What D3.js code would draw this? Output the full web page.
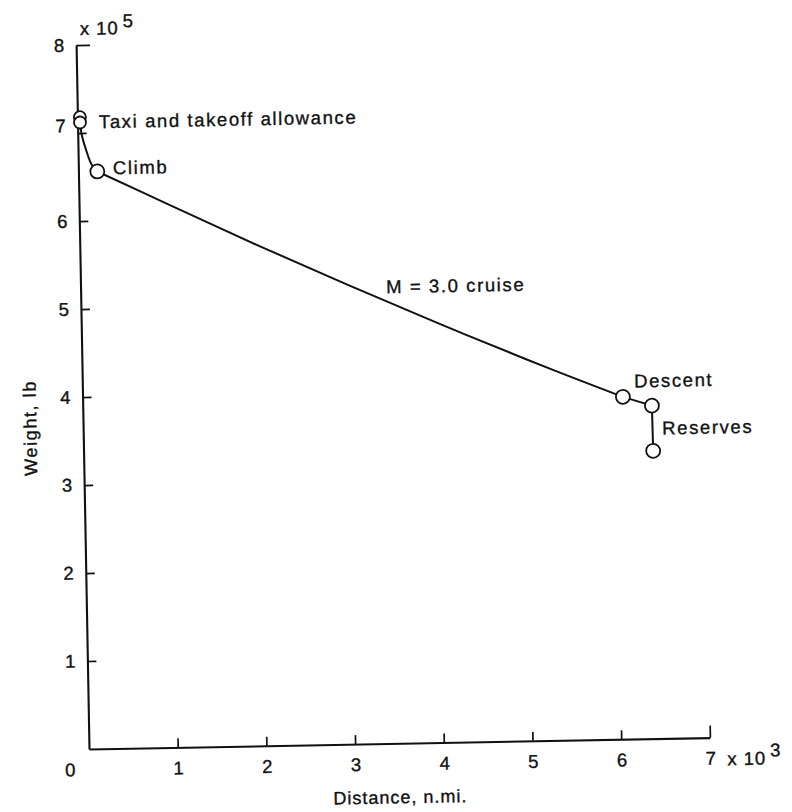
<!DOCTYPE html>
<html>
<head>
<meta charset="utf-8">
<script src="https://cdn.jsdelivr.net/npm/d3@7"></script>
<style>
  html, body { margin: 0; padding: 0; background: #fff; }
  svg { display: block; }
  text { font-family: "Liberation Sans", Arial, Helvetica, sans-serif; fill: #111; stroke: #111; stroke-width: 0.35px; }
</style>
</head>
<body>
<svg id="chart" width="792" height="812"></svg>
<script>
// Mission weight history: distance in thousands of n.mi., weight in 1e5 lb
const xTicks = [1, 2, 3, 4, 5, 6, 7];
const yTicks = [1, 2, 3, 4, 5, 6, 7, 8];

const taxiDist = [0.028, 0.028];
const taxiWeight = [7.18, 7.12];

const climbDist = [0.028, 0.045, 0.09, 0.15, 0.213];
const climbWeight = [7.12, 6.98, 6.81, 6.64, 6.56];

const cruiseDist = [0.213, 1.0, 2.0, 3.0, 4.0, 5.0, 5.5, 6.09];
const cruiseWeight = [6.56, 6.175, 5.69, 5.225, 4.775, 4.34, 4.13, 3.89];

const descentDist = [6.09, 6.415];
const descentWeight = [3.89, 3.784];

const reserveDist = [6.415, 6.42];
const reserveWeight = [3.784, 3.27];

const markerDist = [0.028, 0.028, 0.213, 6.09, 6.415, 6.42];
const markerWeight = [7.18, 7.12, 6.56, 3.89, 3.784, 3.27];

const phaseLabels = ["Taxi and takeoff allowance", "Climb", "M = 3.0 cruise", "Descent", "Reserves"];

const svg = d3.select("#chart");

// plot frame: origin at the lower-left corner, slightly tilted like the printed sheet
const g = svg.append("g").attr("transform", "translate(89,749) rotate(-1.05)");

const x = d3.scaleLinear().domain([0, 7]).range([0, 621]);
const y = d3.scaleLinear().domain([0, 8]).range([0, -704]);

const tickFont = "18.5px";

// x axis
const xAxis = g.append("g")
  .call(d3.axisBottom(x).tickValues(xTicks).tickSizeInner(-9).tickSizeOuter(0).tickPadding(14).tickFormat(d3.format("d")));
xAxis.select(".domain").attr("stroke", "#111").attr("stroke-width", 2.1);
xAxis.selectAll(".tick line").attr("stroke", "#111").attr("stroke-width", 1.7)
  .attr("y2", d => d === 7 ? -12 : -9);
xAxis.selectAll(".tick text").attr("font-size", tickFont).attr("font-family", null);

// y axis
const yAxis = g.append("g")
  .call(d3.axisLeft(y).tickValues(yTicks).tickSizeInner(-9).tickSizeOuter(0).tickPadding(12).tickFormat(d3.format("d")));
yAxis.select(".domain").attr("stroke", "#111").attr("stroke-width", 2.1);
yAxis.selectAll(".tick line").attr("stroke", "#111").attr("stroke-width", 1.7)
  .attr("x2", d => d === 8 ? 14 : 9);
yAxis.selectAll(".tick text").attr("font-size", tickFont).attr("font-family", null)
  .attr("dy", d => d === 7 ? "-0.08em" : "0.32em");

// shared origin label
g.append("text").attr("x", x(0) - 19).attr("y", y(0) + 27)
  .attr("text-anchor", "middle").attr("font-size", tickFont).text("0");

// axis multipliers
const mult5 = g.append("text").attr("x", x(0) + 4).attr("y", y(8) - 10).attr("font-size", tickFont).attr("letter-spacing", 1);
mult5.append("tspan").text("x 10");
mult5.append("tspan").attr("dx", 4).attr("dy", -7).text("5");

const mult3 = g.append("text").attr("x", x(7) + 17).attr("y", y(0) + 28).attr("font-size", tickFont).attr("letter-spacing", 1);
mult3.append("tspan").text("x 10");
mult3.append("tspan").attr("dx", 4).attr("dy", -8).text("3");

// axis titles
g.append("text").attr("x", x(3.5)).attr("y", y(0) + 60)
  .attr("text-anchor", "middle").attr("font-size", "18px").attr("letter-spacing", 1.0)
  .text("Distance, n.mi.");
g.append("text").attr("transform", `translate(-53,${y(3.66)}) rotate(-90)`)
  .attr("text-anchor", "middle").attr("dy", "0.35em").attr("font-size", "18px").attr("letter-spacing", 1.6)
  .text("Weight, lb");

// weight history segments
const line = d3.line().x(d => x(d[0])).y(d => y(d[1]));
const curve = d3.line().x(d => x(d[0])).y(d => y(d[1])).curve(d3.curveCatmullRom.alpha(0.5));
const segs = [
  [taxiDist, taxiWeight, line],
  [climbDist, climbWeight, curve],
  [cruiseDist, cruiseWeight, curve],
  [descentDist, descentWeight, line],
  [reserveDist, reserveWeight, line]
];
segs.forEach(([xs, ws, gen]) => {
  g.append("path")
    .attr("d", gen(xs.map((v, i) => [v, ws[i]])))
    .attr("fill", "none").attr("stroke", "#111").attr("stroke-width", 2);
});

// phase end markers
g.selectAll("circle.marker")
  .data(markerDist.map((v, i) => [v, markerWeight[i], i]))
  .join("circle")
  .attr("class", "marker")
  .attr("cx", d => x(d[0])).attr("cy", d => y(d[1]))
  .attr("r", d => d[2] < 2 ? 6 : 7)
  .attr("fill", "#fff").attr("stroke", "#111").attr("stroke-width", 1.8);

// phase labels
const labelPos = [[0.242, 7.125], [0.39, 6.598], [3.444, 5.189], [6.22, 4.068], [6.527, 3.528]];
g.selectAll("text.phase")
  .data(phaseLabels)
  .join("text")
  .attr("class", "phase")
  .attr("x", (d, i) => x(labelPos[i][0]))
  .attr("y", (d, i) => y(labelPos[i][1]))
  .attr("dy", "0.35em")
  .attr("font-size", "18.5px")
  .attr("letter-spacing", 1.6)
  .text(d => d);
</script>
</body>
</html>
